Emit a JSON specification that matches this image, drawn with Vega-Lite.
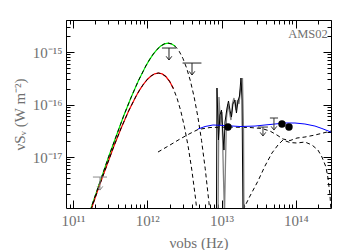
{
  "$schema": "https://vega.github.io/schema/vega-lite/v6.json",
  "width": 265,
  "height": 188,
  "autosize": {"type": "none"},
  "padding": {"left": 66, "top": 20, "right": 19, "bottom": 42},
  "background": "white",
  "config": {
    "view": {"stroke": null},
    "axis": {"grid": false, "domainColor": "#000000", "tickColor": "#000000", "domainWidth": 1, "tickWidth": 1, "labelFont": "Liberation Serif", "titleFont": "Liberation Serif", "labelColor": "#707070", "titleColor": "#707070", "labelFontSize": 15, "titleFontSize": 15, "titleFontWeight": "normal", "labelOverlap": false, "labelFlush": false, "labelBound": false}
  },
  "datasets": {
    "warm": [
      {"nu": 1.202e11, "f": 2.143e-19}, {"nu": 1.905e11, "f": 1.528e-18}, {"nu": 3.020e11, "f": 1.014e-17}, {"nu": 4.786e11, "f": 5.970e-17},
      {"nu": 6.026e11, "f": 1.346e-16}, {"nu": 7.586e11, "f": 2.831e-16}, {"nu": 9.550e11, "f": 5.408e-16}, {"nu": 1.072e12, "f": 7.161e-16},
      {"nu": 1.202e12, "f": 9.120e-16}, {"nu": 1.349e12, "f": 1.114e-15}, {"nu": 1.514e12, "f": 1.297e-15}, {"nu": 1.698e12, "f": 1.429e-15},
      {"nu": 1.905e12, "f": 1.479e-15}, {"nu": 2.138e12, "f": 1.422e-15}, {"nu": 2.399e12, "f": 1.268e-15}, {"nu": 2.692e12, "f": 1.028e-15},
      {"nu": 3.020e12, "f": 7.534e-16}, {"nu": 3.388e12, "f": 4.920e-16}, {"nu": 3.802e12, "f": 2.825e-16}, {"nu": 4.266e12, "f": 1.403e-16},
      {"nu": 4.786e12, "f": 5.916e-17}, {"nu": 5.370e12, "f": 2.080e-17}, {"nu": 6.026e12, "f": 5.957e-18}, {"nu": 6.761e12, "f": 1.355e-18},
      {"nu": 7.586e12, "f": 2.382e-19}
    ],
    "cold": [
      {"nu": 1.413e11, "f": 4.111e-19}, {"nu": 2.239e11, "f": 2.729e-18}, {"nu": 3.548e11, "f": 1.607e-17}, {"nu": 4.467e11, "f": 3.622e-17},
      {"nu": 5.623e11, "f": 7.621e-17}, {"nu": 7.079e11, "f": 1.455e-16}, {"nu": 7.943e11, "f": 1.928e-16}, {"nu": 8.913e11, "f": 2.455e-16},
      {"nu": 1.000e12, "f": 2.999e-16}, {"nu": 1.122e12, "f": 3.491e-16}, {"nu": 1.259e12, "f": 3.846e-16}, {"nu": 1.413e12, "f": 3.981e-16},
      {"nu": 1.585e12, "f": 3.828e-16}, {"nu": 1.778e12, "f": 3.412e-16}, {"nu": 1.995e12, "f": 2.767e-16}, {"nu": 2.239e12, "f": 2.028e-16},
      {"nu": 2.512e12, "f": 1.324e-16}, {"nu": 2.818e12, "f": 7.603e-17}, {"nu": 3.162e12, "f": 3.776e-17}, {"nu": 3.548e12, "f": 1.592e-17},
      {"nu": 3.981e12, "f": 5.598e-18}, {"nu": 4.467e12, "f": 1.603e-18}, {"nu": 5.012e12, "f": 3.648e-19}
    ],
    "agn": [
      {"nu": 1.393e12, "f": 1.245e-17}, {"nu": 2.023e12, "f": 1.694e-17}, {"nu": 2.754e12, "f": 2.203e-17}, {"nu": 3.758e12, "f": 2.805e-17},
      {"nu": 4.808e12, "f": 3.342e-17}, {"nu": 6.982e12, "f": 3.648e-17}, {"nu": 1.297e13, "f": 3.724e-17}, {"nu": 2.410e13, "f": 3.648e-17},
      {"nu": 3.499e13, "f": 3.491e-17}, {"nu": 4.477e13, "f": 3.126e-17}, {"nu": 5.572e13, "f": 2.624e-17}, {"nu": 6.699e13, "f": 2.203e-17},
      {"nu": 8.337e13, "f": 2.061e-17}, {"nu": 1.035e14, "f": 2.301e-17}, {"nu": 1.324e14, "f": 2.404e-17}, {"nu": 1.807e14, "f": 2.624e-17},
      {"nu": 2.317e14, "f": 2.864e-17}, {"nu": 2.965e14, "f": 3.126e-17}
    ],
    "stars": [
      {"nu": 1.941e13, "f": 9.772e-19}, {"nu": 2.410e13, "f": 1.807e-18}, {"nu": 3.090e13, "f": 3.491e-18}, {"nu": 3.837e13, "f": 6.745e-18},
      {"nu": 4.764e13, "f": 1.191e-17}, {"nu": 5.741e13, "f": 1.694e-17}, {"nu": 6.699e13, "f": 2.109e-17}, {"nu": 8.337e13, "f": 1.888e-17},
      {"nu": 1.035e14, "f": 1.849e-17}, {"nu": 1.324e14, "f": 1.932e-17}, {"nu": 1.648e14, "f": 1.694e-17}, {"nu": 1.982e14, "f": 1.358e-17},
      {"nu": 2.244e14, "f": 1.000e-17}, {"nu": 2.541e14, "f": 6.457e-18}, {"nu": 2.704e14, "f": 3.981e-18}, {"nu": 2.877e14, "f": 1.888e-18},
      {"nu": 2.965e14, "f": 9.772e-19}
    ],
    "total": [
      {"nu": 4.808e12, "f": 3.412e-17}, {"nu": 5.984e12, "f": 3.811e-17}, {"nu": 7.656e12, "f": 4.074e-17}, {"nu": 1.112e13, "f": 3.981e-17},
      {"nu": 1.770e13, "f": 3.811e-17}, {"nu": 2.818e13, "f": 3.890e-17}, {"nu": 3.837e13, "f": 4.074e-17}, {"nu": 5.236e13, "f": 4.256e-17},
      {"nu": 7.129e13, "f": 4.446e-17}, {"nu": 9.727e13, "f": 4.446e-17}, {"nu": 1.324e14, "f": 4.256e-17}, {"nu": 1.807e14, "f": 3.890e-17},
      {"nu": 2.244e14, "f": 3.491e-17}, {"nu": 2.965e14, "f": 2.992e-17}
    ],
    "spec_black": [
      {"nu": 8.531e12, "f": 7.852e-19}, {"nu": 8.670e12, "f": 2.061e-16}, {"nu": 9.078e12, "f": 2.109e-17}, {"nu": 9.506e12, "f": 6.310e-17},
      {"nu": 9.977e12, "f": 7.852e-17}, {"nu": 1.045e13, "f": 2.624e-17}, {"nu": 1.076e13, "f": 1.358e-17}, {"nu": 1.112e13, "f": 4.645e-17},
      {"nu": 1.183e13, "f": 8.570e-17}, {"nu": 1.239e13, "f": 1.167e-16}, {"nu": 1.297e13, "f": 7.852e-17}, {"nu": 1.358e13, "f": 5.781e-17},
      {"nu": 1.422e13, "f": 1.023e-16}, {"nu": 1.514e13, "f": 1.219e-16}, {"nu": 1.585e13, "f": 6.887e-17}, {"nu": 1.663e13, "f": 1.167e-16},
      {"nu": 1.742e13, "f": 1.452e-16}, {"nu": 1.824e13, "f": 3.199e-16}, {"nu": 1.884e13, "f": 1.219e-16}, {"nu": 1.941e13, "f": 7.852e-19}
    ],
    "spec_grey": [
      {"nu": 8.954e12, "f": 7.852e-19}, {"nu": 9.226e12, "f": 1.390e-16}, {"nu": 9.661e12, "f": 4.074e-17}, {"nu": 1.012e13, "f": 7.194e-17},
      {"nu": 1.059e13, "f": 4.539e-18}, {"nu": 1.094e13, "f": 7.852e-19}, {"nu": 1.127e13, "f": 7.047e-18}, {"nu": 1.164e13, "f": 5.534e-17},
      {"nu": 1.219e13, "f": 1.023e-16}, {"nu": 1.276e13, "f": 7.194e-17}, {"nu": 1.337e13, "f": 5.070e-17}, {"nu": 1.403e13, "f": 1.069e-16},
      {"nu": 1.469e13, "f": 1.330e-16}, {"nu": 1.563e13, "f": 7.852e-17}, {"nu": 1.637e13, "f": 1.219e-16}, {"nu": 1.714e13, "f": 1.023e-16},
      {"nu": 1.795e13, "f": 1.888e-16}, {"nu": 1.854e13, "f": 2.249e-16}, {"nu": 1.910e13, "f": 3.199e-16}, {"nu": 1.972e13, "f": 3.266e-17},
      {"nu": 2.000e13, "f": 7.852e-19}
    ],
    "limits": [
      {"nu": 2.307e11, "nulo": 1.854e11, "nuhi": 2.871e11, "f": 4.159e-18, "ftip": 2.350e-18, "band": "submm"},
      {"nu": 1.959e12, "nulo": 1.574e12, "nuhi": 2.438e12, "f": 1.191e-15, "ftip": 7.047e-16, "band": "fir"},
      {"nu": 3.999e12, "nulo": 2.985e12, "nuhi": 5.358e12, "f": 6.166e-16, "ftip": 3.648e-16, "band": "fir"},
      {"nu": 3.606e13, "nulo": 3.090e13, "nuhi": 4.207e13, "f": 3.724e-17, "ftip": 2.512e-17, "band": "mir"},
      {"nu": 5.070e13, "nulo": 4.467e13, "nuhi": 5.754e13, "f": 5.534e-17, "ftip": 3.266e-17, "band": "mir"}
    ],
    "detections": [
      {"nu": 1.219e13, "f": 3.724e-17}, {"nu": 6.501e13, "f": 4.256e-17}, {"nu": 8.072e13, "f": 3.724e-17}
    ],
    "label": [
      {"nu": 2.69e14, "f": 2.19e-15, "name": "AMS02"}
    ]
  },
  "encoding": {
    "x": {"field": "nu", "type": "quantitative", "scale": {"type": "log", "domain": [8.05e10, 2.97e14], "nice": false}, "axis": null},
    "y": {"field": "f", "type": "quantitative", "scale": {"type": "log", "domain": [1.07e-18, 4.07e-15], "nice": false}, "axis": null}
  },
  "layer": [
    {"data": {"name": "warm"}, "transform": [{"filter": "datum.nu <= 2.5e12"}], "mark": {"type": "line", "color": "#00f000", "strokeWidth": 1.2, "clip": true}},
    {"data": {"name": "cold"}, "transform": [{"filter": "datum.nu <= 2.3e12"}], "mark": {"type": "line", "color": "#ff0000", "strokeWidth": 1.2, "clip": true}},
    {"data": {"name": "warm"}, "mark": {"type": "line", "color": "#000000", "strokeWidth": 1, "strokeDash": [4, 3], "clip": true}},
    {"data": {"name": "cold"}, "mark": {"type": "line", "color": "#000000", "strokeWidth": 1, "strokeDash": [4, 3], "clip": true}},
    {"data": {"name": "agn"}, "mark": {"type": "line", "color": "#000000", "strokeWidth": 1, "strokeDash": [4, 3], "clip": true}},
    {"data": {"name": "stars"}, "mark": {"type": "line", "color": "#000000", "strokeWidth": 1, "strokeDash": [4, 3], "clip": true}},
    {"data": {"name": "spec_grey"}, "mark": {"type": "line", "color": "#808080", "strokeWidth": 1.3, "clip": true}},
    {"data": {"name": "spec_black"}, "mark": {"type": "line", "color": "#000000", "strokeWidth": 1, "clip": true}},
    {
      "data": {"name": "total"},
      "mark": {"type": "line", "color": "#0000ff", "strokeWidth": 1, "clip": true},
      "encoding": {
        "x": {"field": "nu", "type": "quantitative", "scale": {"type": "log", "domain": [8.05e10, 2.97e14], "nice": false},
          "axis": {"orient": "bottom", "values": [9e10, 1e11, 2e11, 3e11, 4e11, 5e11, 6e11, 7e11, 8e11, 9e11, 1e12, 2e12, 3e12, 4e12, 5e12, 6e12, 7e12, 8e12, 9e12, 1e13, 2e13, 3e13, 4e13, 5e13, 6e13, 7e13, 8e13, 9e13, 1e14, 2e14],
            "tickSize": {"condition": {"test": "abs(log(datum.value)/LN10 - round(log(datum.value)/LN10)) < 0.001", "value": -8}, "value": -4},
            "labelPadding": 13,
            "labelExpr": "abs(log(datum.value)/LN10 - round(log(datum.value)/LN10)) < 0.001 ? (round(log(datum.value)/LN10) == 11 ? '10¹¹' : round(log(datum.value)/LN10) == 12 ? '10¹²' : round(log(datum.value)/LN10) == 13 ? '10¹³' : '10¹⁴') : ''",
            "title": "νobs (Hz)", "titlePadding": 3}},
        "y": {"field": "f", "type": "quantitative", "scale": {"type": "log", "domain": [1.07e-18, 4.07e-15], "nice": false},
          "axis": {"orient": "left", "values": [2e-18, 3e-18, 4e-18, 5e-18, 6e-18, 7e-18, 8e-18, 9e-18, 1e-17, 2e-17, 3e-17, 4e-17, 5e-17, 6e-17, 7e-17, 8e-17, 9e-17, 1e-16, 2e-16, 3e-16, 4e-16, 5e-16, 6e-16, 7e-16, 8e-16, 9e-16, 1e-15, 2e-15, 3e-15, 4e-15],
            "tickSize": {"condition": {"test": "abs(log(datum.value)/LN10 - round(log(datum.value)/LN10)) < 0.001", "value": -8}, "value": -4},
            "labelPadding": 12,
            "labelExpr": "abs(log(datum.value)/LN10 - round(log(datum.value)/LN10)) < 0.001 ? (round(log(datum.value)/LN10) == -15 ? '10⁻¹⁵' : round(log(datum.value)/LN10) == -16 ? '10⁻¹⁶' : '10⁻¹⁷') : ''",
            "title": "νSᵥ (W m⁻²)", "titlePadding": 5}}
      }
    },
    {"data": {"name": "limits"}, "mark": {"type": "rule", "strokeWidth": 1},
      "encoding": {
        "x": {"field": "nulo", "type": "quantitative", "scale": {"type": "log", "domain": [8.05e10, 2.97e14], "nice": false}, "axis": null},
        "x2": {"field": "nuhi"},
        "color": {"field": "band", "type": "nominal", "scale": {"domain": ["submm", "fir", "mir"], "range": ["#8c8c8c", "#222222", "#333333"]}, "legend": null}
      }},
    {"data": {"name": "limits"}, "mark": {"type": "rule", "strokeWidth": 1},
      "encoding": {
        "y2": {"field": "ftip"},
        "color": {"field": "band", "type": "nominal", "scale": {"domain": ["submm", "fir", "mir"], "range": ["#8c8c8c", "#222222", "#333333"]}, "legend": null}
      }},
    {"data": {"name": "limits"}, "mark": {"type": "point", "shape": "M-1,-1.3L0,0L1,-1.3", "filled": false, "size": 32, "strokeWidth": 1, "opacity": 1},
      "encoding": {
        "y": {"field": "ftip", "type": "quantitative", "scale": {"type": "log", "domain": [1.07e-18, 4.07e-15], "nice": false}, "axis": null},
        "color": {"field": "band", "type": "nominal", "scale": {"domain": ["submm", "fir", "mir"], "range": ["#8c8c8c", "#222222", "#333333"]}, "legend": null}
      }},
    {
      "data": {"name": "detections"},
      "mark": {"type": "circle", "color": "#000000", "size": 55, "opacity": 1},
      "encoding": {
        "x": {"field": "nu", "type": "quantitative", "scale": {"type": "log", "domain": [8.05e10, 2.97e14], "nice": false},
          "axis": {"orient": "top", "values": [9e10, 1e11, 2e11, 3e11, 4e11, 5e11, 6e11, 7e11, 8e11, 9e11, 1e12, 2e12, 3e12, 4e12, 5e12, 6e12, 7e12, 8e12, 9e12, 1e13, 2e13, 3e13, 4e13, 5e13, 6e13, 7e13, 8e13, 9e13, 1e14, 2e14],
            "tickSize": {"condition": {"test": "abs(log(datum.value)/LN10 - round(log(datum.value)/LN10)) < 0.001", "value": -8}, "value": -4},
            "labels": false, "title": null}},
        "y": {"field": "f", "type": "quantitative", "scale": {"type": "log", "domain": [1.07e-18, 4.07e-15], "nice": false},
          "axis": {"orient": "right", "values": [2e-18, 3e-18, 4e-18, 5e-18, 6e-18, 7e-18, 8e-18, 9e-18, 1e-17, 2e-17, 3e-17, 4e-17, 5e-17, 6e-17, 7e-17, 8e-17, 9e-17, 1e-16, 2e-16, 3e-16, 4e-16, 5e-16, 6e-16, 7e-16, 8e-16, 9e-16, 1e-15, 2e-15, 3e-15, 4e-15],
            "tickSize": {"condition": {"test": "abs(log(datum.value)/LN10 - round(log(datum.value)/LN10)) < 0.001", "value": -8}, "value": -4},
            "labels": false, "title": null}}
      }
    },
    {"data": {"name": "label"}, "mark": {"type": "text", "align": "right", "baseline": "middle", "font": "Liberation Serif", "fontSize": 12.5, "color": "#707070"},
      "encoding": {"text": {"field": "name"}}}
  ],
  "resolve": {"axis": {"x": "independent", "y": "independent"}}
}
